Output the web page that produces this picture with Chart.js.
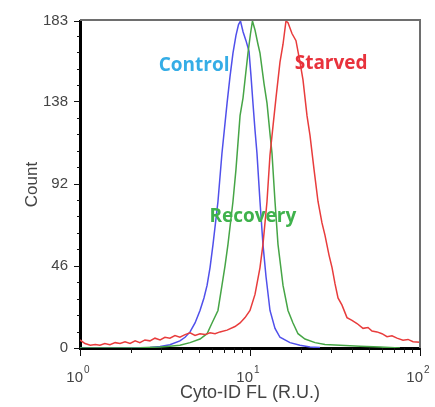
<!DOCTYPE html>
<html>
<head>
<meta charset="utf-8">
<script src="https://cdn.jsdelivr.net/npm/chart.js@4"></script>
<style>
  html, body { margin: 0; padding: 0; background: #fff; }
</style>
</head>
<body>
<canvas id="myChart" width="435" height="407"></canvas>
<script>
// Cyto-ID FL (R.U.) values and counts
var controlX = [1, 1.72, 2.58, 2.96, 3.38, 3.87, 4.15, 4.44, 4.75, 5.08, 5.36, 5.59, 5.82, 6.06, 6.48, 6.84, 7.33, 7.63, 7.94, 8.27, 8.56, 8.79, 9.1, 9.47, 9.87, 10.14, 10.41, 10.7, 10.99, 11.45, 11.92, 12.42, 13.11, 14.03, 15.01, 17.19, 19.68, 22.54, 25.81];
var controlY = [0, 0, 0.3, 0.8, 1.8, 4, 6, 9, 14, 21, 28, 35, 45, 58, 82, 109, 137, 152, 165, 175, 181, 183, 177, 172, 166, 152, 137, 122, 109, 82, 58, 40, 21, 11, 6, 3, 1.5, 0.5, 0.3];

var recoveryX = [1, 2.25, 2.96, 3.38, 3.87, 4.44, 5.08, 5.59, 5.98, 6.48, 6.84, 7.13, 7.42, 7.94, 8.27, 8.74, 9.1, 9.47, 9.73, 10.07, 10.34, 10.7, 11.14, 11.45, 12.09, 12.59, 13.11, 13.47, 14.03, 14.61, 15.64, 16.73, 17.9, 19.16, 21.06, 24.13, 27.62, 33.83, 44.37, 58.17, 76.29];
var recoveryY = [0, 0.2, 0.6, 1, 1.5, 3, 5, 8, 14, 21, 35, 46, 58, 82, 100, 130, 140, 155, 165, 176, 183, 178, 170, 165, 148, 137, 120, 109, 82, 58, 35, 21, 14, 8, 5, 3, 2, 1.5, 1, 0.5, 0];

var starvedX = [1, 1.07, 1.15, 1.23, 1.31, 1.4, 1.5, 1.61, 1.72, 1.84, 1.97, 2.11, 2.25, 2.41, 2.58, 2.76, 2.96, 3.16, 3.38, 3.62, 3.87, 4.15, 4.44, 4.75, 5.08, 5.44, 5.82, 6.23, 6.66, 7.33, 8.16, 8.74, 9.35, 10, 10.7, 11.45, 11.92, 12.59, 13.11, 13.65, 14.22, 15.01, 15.64, 16.28, 16.73, 17.66, 18.64, 19.68, 20.5, 21.64, 22.54, 23.8, 25.12, 26.51, 27.62, 29.16, 30.38, 31.62, 32.94, 34.77, 37.2, 39.81, 42.61, 46.21, 49.45, 52.2, 55.87, 59.76, 63.96, 68.43, 73.23, 79.43, 85.03, 90.99, 100];
var starvedY = [4.5, 2.5, 1.5, 2, 1.5, 2.5, 1.8, 3, 2.5, 3.5, 2.5, 4, 3, 4.5, 4, 5.5, 4.5, 6, 5.5, 7, 6, 7.5, 8.5, 7, 8, 7.5, 8.5, 8, 9, 10, 12, 14, 17, 21, 30, 45, 58, 82, 108, 124, 140, 160, 170, 183, 182, 176, 172, 160, 150, 130, 119, 100, 82, 70, 63, 52, 45, 36, 28, 24, 17, 15.5, 13.7, 11, 11.5, 9.5, 9, 8, 6.3, 6.8, 5.5, 4.4, 4.8, 3.5, 3.2];

var yTicks = [0, 46, 92, 138, 183];
var xDecades = [1, 10, 100];

function pts(xs, ys) {
  return xs.map(function (v, i) { return {x: v, y: ys[i]}; });
}

// tick marks, frame, decade labels and the series names
const extras = {
  id: 'extras',
  afterDraw(chart) {
    const ctx = chart.ctx;
    const a = chart.chartArea;
    const x = chart.scales.x, y = chart.scales.y;
    ctx.save();

    ctx.strokeStyle = '#6e6e6e';
    ctx.lineWidth = 2;
    ctx.beginPath();
    ctx.moveTo(a.left, a.top - 1);
    ctx.lineTo(a.right, a.top - 1);
    ctx.lineTo(a.right, a.bottom);
    ctx.stroke();

    ctx.strokeStyle = '#111';
    ctx.lineWidth = 1;
    ctx.beginPath();
    for (let k = 0; k * 46 / 5 <= 183.5; k++) {
      const py = Math.round(y.getPixelForValue(k * 46 / 5)) + 0.5;
      const len = k % 5 === 0 ? 6 : 3;
      ctx.moveTo(a.left - len, py);
      ctx.lineTo(a.left, py);
    }
    const top = Math.round(y.getPixelForValue(183)) + 0.5;
    ctx.moveTo(a.left - 6, top);
    ctx.lineTo(a.left, top);

    for (let d = 0; d < 2; d++) {
      for (let m = 2; m <= 9; m++) {
        const px = Math.round(x.getPixelForValue(m * Math.pow(10, d))) + 0.5;
        ctx.moveTo(px, a.bottom);
        ctx.lineTo(px, a.bottom + 5);
      }
    }
    xDecades.forEach(function (v) {
      const px = Math.round(x.getPixelForValue(v)) + 0.5;
      ctx.moveTo(px, a.bottom);
      ctx.lineTo(px, a.bottom + 8);
    });
    ctx.stroke();

    ctx.fillStyle = '#444';
    xDecades.forEach(function (v, i) {
      const px = x.getPixelForValue(v);
      ctx.font = '15px "Liberation Sans", Arial, sans-serif';
      ctx.textAlign = 'right';
      ctx.textBaseline = 'alphabetic';
      ctx.fillText('10', px + 3, a.bottom + 34);
      ctx.font = '10px "Liberation Sans", Arial, sans-serif';
      ctx.textAlign = 'left';
      ctx.fillText(String(i), px + 4, a.bottom + 25);
    });

    const names = chart.options.plugins.extras.names;
    ctx.font = 'bold 19px "Open Sans", sans-serif';
    ctx.textAlign = 'center';
    ctx.textBaseline = 'middle';
    names.forEach(function (n) {
      ctx.fillStyle = n.color;
      ctx.fillText(n.text, x.getPixelForValue(n.at[0]), y.getPixelForValue(n.at[1]));
    });
    ctx.restore();
  }
};

new Chart('myChart', {
  type: 'scatter',
  data: {
    datasets: [{
      label: 'Starved',
      data: pts(starvedX, starvedY),
      borderColor: 'rgb(232,60,60)',
      showLine: true,
      borderWidth: 1.5,
      pointRadius: 0
    }, {
      label: 'Recovery',
      data: pts(recoveryX, recoveryY),
      borderColor: 'rgb(70,165,70)',
      showLine: true,
      borderWidth: 1.5,
      pointRadius: 0
    }, {
      label: 'Control',
      data: pts(controlX, controlY),
      borderColor: 'rgb(80,80,235)',
      showLine: true,
      borderWidth: 1.5,
      pointRadius: 0
    }]
  },
  options: {
    responsive: false,
    devicePixelRatio: 1,
    animation: false,
    layout: {padding: {top: 17, right: 15, left: 0, bottom: 0}},
    plugins: {
      legend: {display: false},
      tooltip: {enabled: false},
      extras: {
        names: [
          {text: 'Control', color: '#35ade6', at: [4.69, 158]},
          {text: 'Starved', color: '#e8323c', at: [30, 159]},
          {text: 'Recovery', color: '#3fb24c', at: [10.4, 73.5]}
        ]
      }
    },
    scales: {
      x: {
        type: 'logarithmic',
        min: 1,
        max: 100,
        grid: {display: false},
        border: {display: true, color: '#000', width: 3},
        ticks: {display: false},
        afterFit: function (s) { s.height = 59; },
        title: {
          display: true,
          text: 'Cyto-ID FL (R.U.)',
          color: '#444',
          font: {family: '"Liberation Sans", Arial, sans-serif', size: 18},
          padding: {top: 0, bottom: 3}
        }
      },
      y: {
        min: 0,
        max: 183,
        afterBuildTicks: function (s) { s.ticks = yTicks.map(function (v) { return {value: v}; }); },
        grid: {display: false, drawTicks: false},
        border: {display: true, color: '#000', width: 3},
        ticks: {
          autoSkip: false,
          padding: 12,
          color: '#444',
          font: {family: '"Liberation Sans", Arial, sans-serif', size: 15}
        },
        afterFit: function (s) { s.width = 80; },
        title: {
          display: true,
          text: 'Count',
          color: '#444',
          font: {family: '"Liberation Sans", Arial, sans-serif', size: 17},
          padding: {top: 22, bottom: 0}
        }
      }
    }
  },
  plugins: [extras]
});
</script>
</body>
</html>
